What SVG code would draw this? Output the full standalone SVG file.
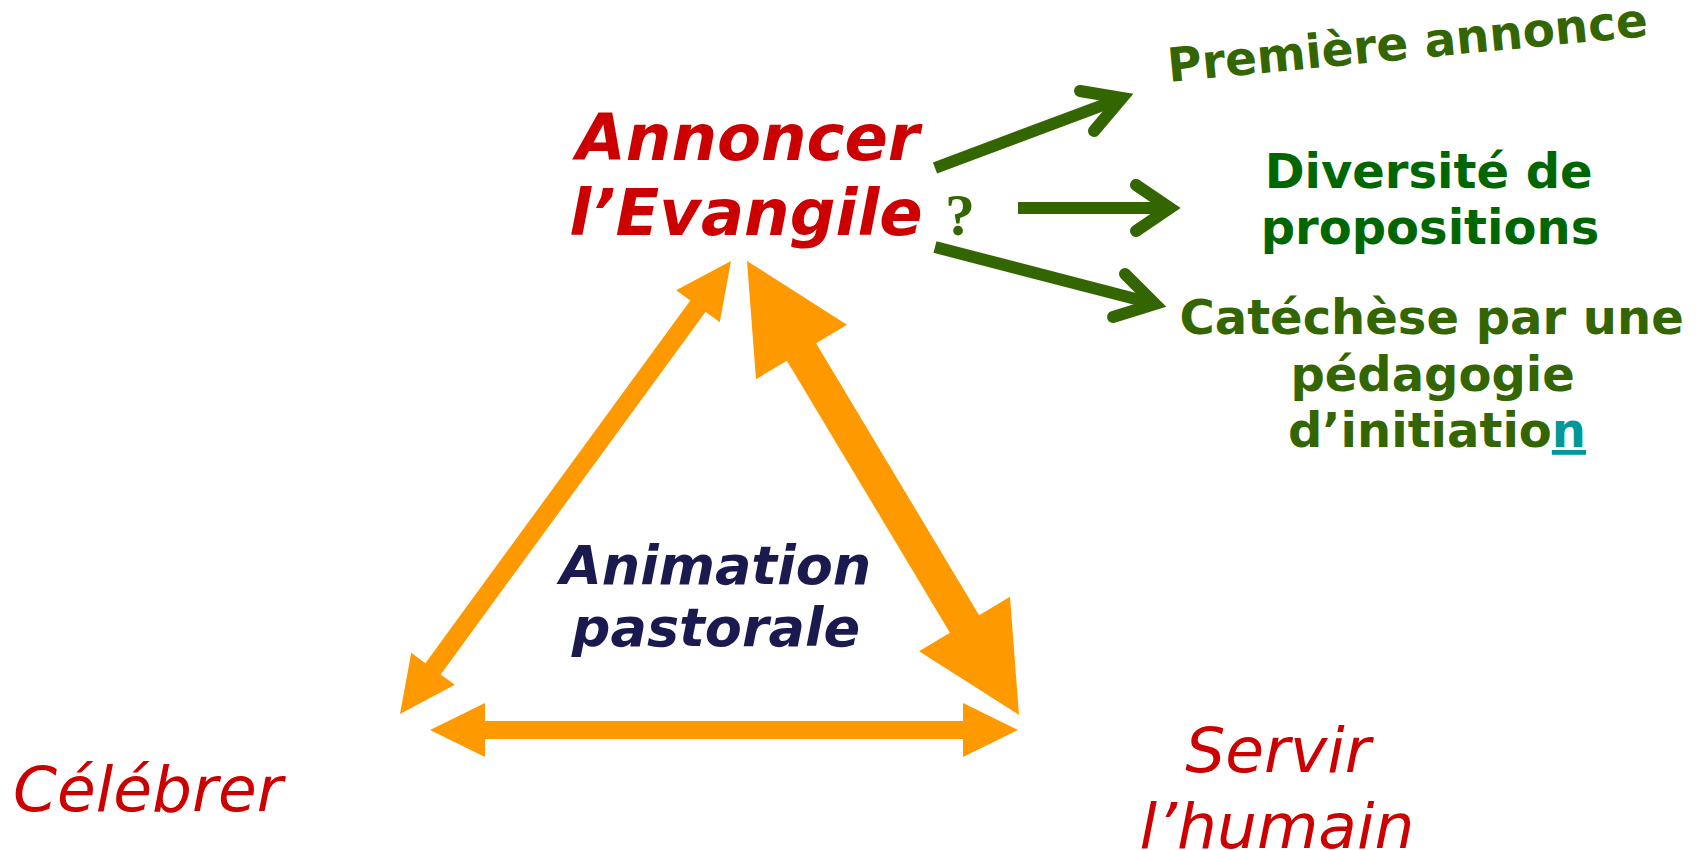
<svg xmlns="http://www.w3.org/2000/svg" width="1701" height="850" viewBox="0 0 1701 850">
  <style>
    .t { font-family: "DejaVu Sans", Verdana, sans-serif; }
    .red { fill: #CC0000; }
    .bi { font-weight: bold; font-style: italic; }
    .it { font-style: italic; font-weight: normal; }
    .b { font-weight: bold; }
    .olive { fill: #336600; }
    .green { fill: #006600; }
    .navy { fill: #1B1A4F; }
    .orange { fill: #FF9900; stroke: none; }
    .shaft { stroke: #336600; stroke-width: 12; stroke-linecap: butt; fill: none; }
    .head { stroke: #336600; stroke-width: 12; stroke-linecap: round; stroke-linejoin: miter; stroke-miterlimit: 10; fill: none; }
  </style>
  <rect width="1701" height="850" fill="#FFFFFF"/>

  <g id="connectors">
    <!-- Orange triangle arrows -->
    <polygon class="orange" points="731,261 719.76,322.15 705.63,311.83 440.71,674.39 454.84,684.71 400,714 411.24,652.85 425.37,663.17 690.29,300.61 676.16,290.29"/>
    <polygon class="orange" points="747,261 846.95,324.71 816.07,343.21 979.11,615.31 1009.99,596.81 1019,715 919.05,651.29 949.93,632.79 786.89,360.69 756.01,379.19"/>
    <polygon class="orange" points="430,730 485,703 485,721 963,721 963,703 1018,730 963,757 963,739 485,739 485,757"/>
    <!-- Green arrows -->
    <line class="shaft" x1="935" y1="168" x2="1122" y2="98"/>
    <polyline class="head" points="1080,91 1122,98 1094,131"/>
    <line class="shaft" x1="1018" y1="208" x2="1170" y2="208"/>
    <polyline class="head" points="1136,185 1170,208 1136,231"/>
    <line class="shaft" x1="935" y1="247" x2="1155" y2="304"/>
    <polyline class="head" points="1125,274 1155,304 1113,317"/>
  </g>

  <g id="annoncer">
    <text class="t bi red" font-size="64" text-anchor="middle">
      <tspan x="759" y="160">Annoncer</tspan>
      <tspan x="746" y="235">l’Evangile</tspan>
    </text>
  </g>

  <g id="question">
    <text x="945" y="235" font-family="Liberation Serif, Times New Roman, serif" font-weight="bold" font-size="60" class="olive">?</text>
  </g>

  <g id="premiere">
    <text class="t b olive" font-size="47" text-anchor="middle" x="1409" y="59" transform="rotate(-5.5 1409 59)">Première annonce</text>
  </g>

  <g id="diversite">
    <text class="t b green" font-size="48" text-anchor="middle">
      <tspan x="1437" y="188">Diversité de</tspan>
      <tspan x="1430" y="244">propositions</tspan>
    </text>
  </g>

  <g id="catechese">
    <text class="t b olive" font-size="48" text-anchor="middle">
      <tspan x="1440" y="334">Catéchèse par une</tspan>
      <tspan x="1441" y="391">pédagogie</tspan>
      <tspan x="1437" y="447">d’initiatio<tspan fill="#009999" text-decoration="underline">n</tspan></tspan>
    </text>
  </g>

  <g id="animation">
    <text class="t bi navy" font-size="54" text-anchor="middle">
      <tspan x="725" y="584">Animation</tspan>
      <tspan x="716" y="646">pastorale</tspan>
    </text>
  </g>

  <g id="celebrer">
    <text class="t it red" font-size="63" x="13" y="811">Célébrer</text>
  </g>

  <g id="servir">
    <text class="t it red" font-size="63" text-anchor="middle">
      <tspan x="1288" y="772">Servir</tspan>
      <tspan x="1277" y="848">l’humain</tspan>
    </text>
  </g>
</svg>
